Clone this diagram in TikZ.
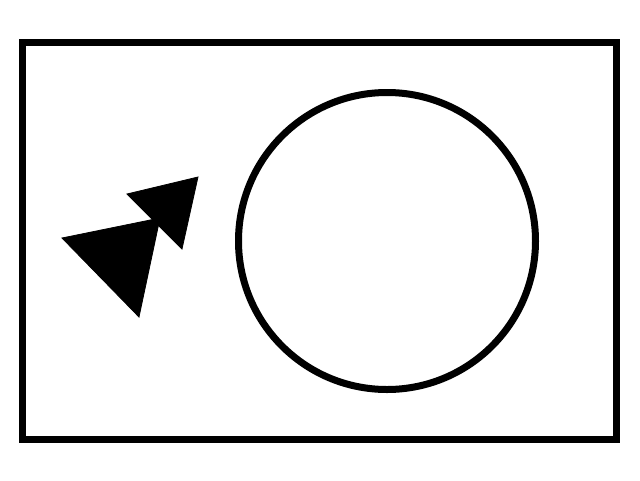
\documentclass[tikz,border=0pt]{standalone}
\begin{document}
\begin{tikzpicture}[x=1pt,y=-1pt,
  frame/.style={draw=black,line width=7pt},
  wedge/.style={fill=black,draw=black,line width=0.8pt,line join=miter}]
\useasboundingbox[fill=white] (0,0) rectangle (640,480);
\draw[frame] (22,42) rectangle (616,439);
\draw[frame] (387,241) circle (148.5);
\fill[wedge] (62,238) -- (160,218) -- (139,317) -- cycle;
\fill[wedge] (127,194) -- (198,177) -- (182,249) -- cycle;
\end{tikzpicture}
\end{document}
